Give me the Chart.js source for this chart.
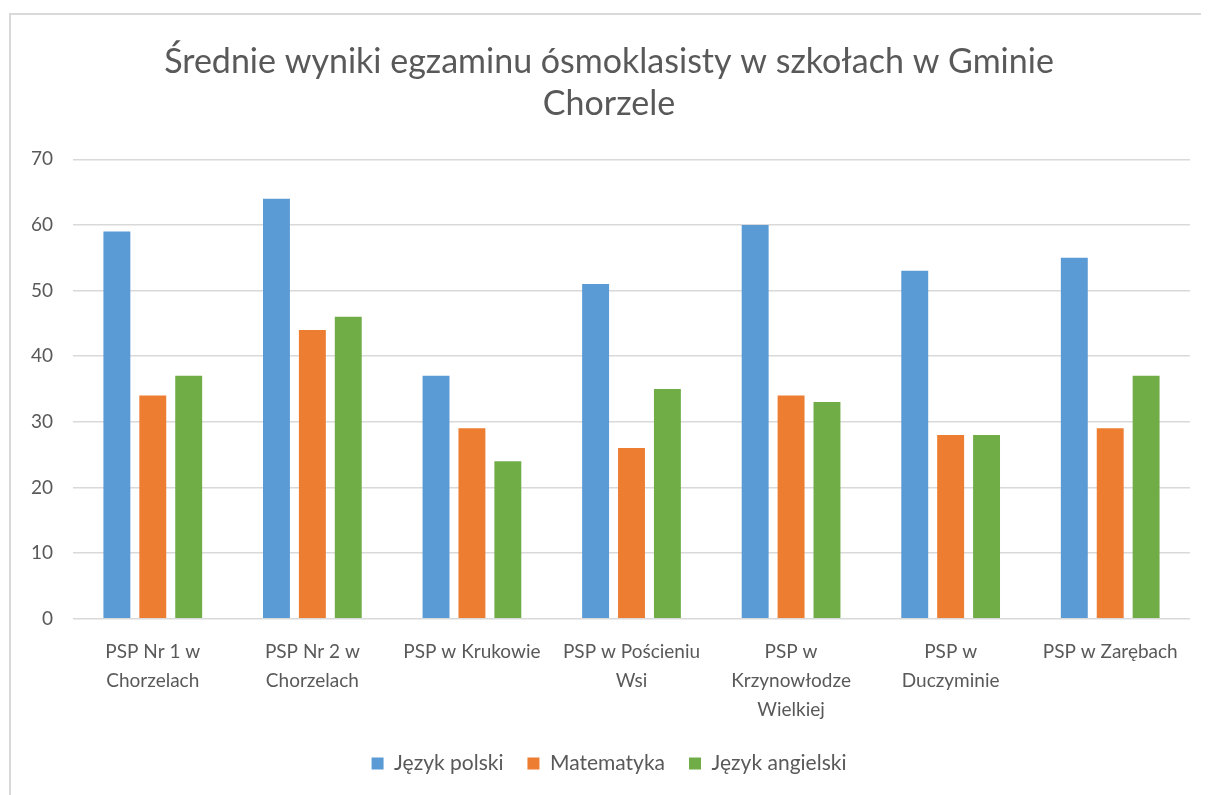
<!DOCTYPE html>
<html>
<head>
<meta charset="utf-8">
<script src="https://cdn.jsdelivr.net/npm/chart.js@4"></script>
<style>
  body { margin: 0; background: #fff; }
  #wrap { position: relative; width: 1208px; height: 795px; }
  #frame {
    position: absolute; left: 9px; top: 13px; width: 1190px; height: 790px;
    border-top: 2px solid #d9d9d9; border-left: 2px solid #d9d9d9;
    pointer-events: none;
  }
  canvas { position: absolute; left: 0; top: 0; }
</style>
</head>
<body>
<div id="wrap">
  <canvas id="exam-chart" width="1208" height="795"></canvas>
  <div id="frame"></div>
</div>
<script>
//data
const schools = [
  ['PSP Nr 1 w', 'Chorzelach'],
  ['PSP Nr 2 w', 'Chorzelach'],
  'PSP w Krukowie',
  ['PSP w Pościeniu', 'Wsi'],
  ['PSP w', 'Krzynowłodze', 'Wielkiej'],
  ['PSP w', 'Duczyminie'],
  'PSP w Zarębach'
];
const polish = [59, 64, 37, 51, 60, 53, 55];
const maths = [34, 44, 29, 26, 34, 28, 29];
const english = [37, 46, 24, 35, 33, 28, 37];
const yTicks = [0, 10, 20, 30, 40, 50, 60, 70];

const textColor = '#595959';
const fontFamily = 'Lato, "Open Sans", sans-serif';

const examChart = document.getElementById('exam-chart');

function makeDataset(label, data, color) {
  return {
    label: label,
    data: data,
    backgroundColor: color,
    borderWidth: 0,
    categoryPercentage: 0.675,
    barPercentage: 0.75
  };
}

new Chart(examChart, {
  type: 'bar',
  data: {
    labels: schools,
    datasets: [
      makeDataset('Język polski', polish, '#5B9BD5'),
      makeDataset('Matematyka', maths, '#ED7D31'),
      makeDataset('Język angielski', english, '#70AD47')
    ]
  },
  options: {
    responsive: false,
    animation: false,
    layout: {
      padding: { left: 28, right: 18, top: 14, bottom: 11 }
    },
    plugins: {
      title: {
        display: true,
        text: ['Średnie wyniki egzaminu ósmoklasisty w szkołach w Gminie', 'Chorzele'],
        color: textColor,
        font: { family: fontFamily, size: 34, weight: 'normal', lineHeight: 1.24 },
        padding: { top: 27, bottom: 34 }
      },
      legend: {
        position: 'bottom',
        labels: {
          color: textColor,
          font: { family: fontFamily, size: 21 },
          boxWidth: 12,
          boxHeight: 12,
          padding: 24
        }
      },
      tooltip: { enabled: false }
    },
    scales: {
      x: {
        afterFit: scale => { scale.height = scale.height - 14; },
        grid: { display: false, drawTicks: false },
        border: { display: false },
        ticks: {
          color: textColor,
          font: { family: fontFamily, size: 19, lineHeight: 1.55 },
          padding: 18,
          maxRotation: 0,
          autoSkip: false
        }
      },
      y: {
        min: 0,
        max: 70,
        afterFit: scale => { scale.width = 45; },
        afterBuildTicks: scale => { scale.ticks = yTicks.map(v => ({ value: v })); },
        grid: { color: '#d9d9d9', lineWidth: 1.5, drawTicks: false },
        border: { display: false },
        ticks: {
          color: textColor,
          font: { family: fontFamily, size: 19 },
          padding: 20
        }
      }
    }
  }
});
</script>
</body>
</html>
